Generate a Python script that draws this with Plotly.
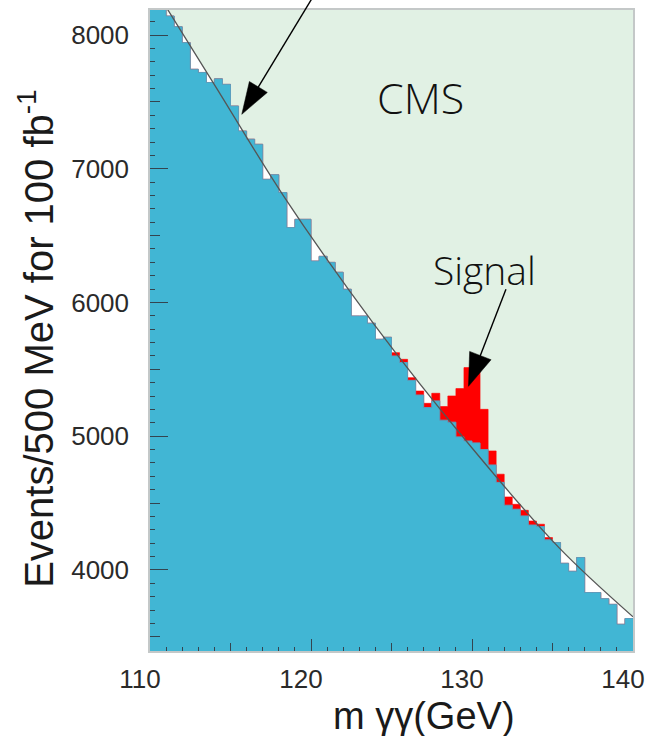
import math
import plotly.graph_objects as go

# ---------------- data ----------------
bin_edges = [110.0 + 0.5 * i for i in range(61)]          # 500 MeV bins, GeV

background = [8300, 8250, 8142, 8062, 7943, 7744, 7720, 7645, 7672, 7631,
              7469, 7282, 7221, 7183, 6921, 6955, 6822, 6560, 6622, 6622,
              6310, 6345, 6300, 6226, 6099, 5899, 5899, 5845, 5725, 5740,
              5600, 5551, 5418, 5308, 5214, 5264, 5120, 5105, 4995, 4964,
              4950, 4900, 4785, 4655, 4484, 4454, 4404, 4336, 4324, 4225,
              4205, 4050, 3990, 4093, 3831, 3831, 3785, 3743, 3594, 3637]

signal = [0, 0, 0, 0, 0, 0, 0, 0, 0, 0,
          0, 0, 0, 0, 0, 0, 0, 0, 0, 0,
          0, 0, 0, 0, 0, 0, 0, 0, 0, 0,
          25, 24, 20, 30, 32, 57, 102, 196, 361, 549,
          563, 301, 105, 61, 62, 37, 42, 30, 18, 17,
          0, 0, 0, 0, 0, 0, 0, 0, 0, 0]

fit_mass = [111.1, 114.2, 118.3, 124.0, 129.9, 135.4, 140.0]
fit_events = [8190, 7590, 6796, 5824, 4927, 4167, 3650]

x_tick_vals = [110, 120, 130, 140]
y_tick_vals = [4000, 5000, 6000, 7000, 8000]

x_range = [110, 140]
y_range = [3394, 8187]

# ---------------- styling ----------------
GREEN_BG = "#e1f1e4"
BLUE = "#41b6d4"
RED = "#ff0000"
TICK_COL = "#34444f"
FRAME_COL = "#c4c8c8"
LABEL_FONT = "Liberation Sans, Arial, sans-serif"
HAND_FONT = "Open Sans, Lato, sans-serif"

total = [b + s for b, s in zip(background, signal)]
step_x = bin_edges
step_bg = background + [background[-1]]
step_tot = total + [total[-1]]

fig = go.Figure()

# white area below the fitted curve (shows through where the histogram dips)
fig.add_trace(go.Scatter(x=fit_mass, y=fit_events, mode="lines",
                         line=dict(width=0, shape="spline"),
                         fill="tozeroy", fillcolor="white",
                         hoverinfo="skip", showlegend=False))
# signal stacked on background
fig.add_trace(go.Scatter(x=step_x, y=step_tot, mode="lines",
                         line=dict(shape="hv", color=RED, width=0.6),
                         fill="tozeroy", fillcolor=RED, showlegend=False))
# background histogram
fig.add_trace(go.Scatter(x=step_x, y=step_bg, mode="lines",
                         line=dict(shape="hv", color="#5b9fbf", width=1),
                         fill="tozeroy", fillcolor=BLUE, showlegend=False))
# fitted background curve
fig.add_trace(go.Scatter(x=fit_mass, y=fit_events, mode="lines",
                         line=dict(shape="spline", color="#555555", width=1.3),
                         showlegend=False))
# carrier trace for the overlay axes that hold the medium-length ticks
fig.add_trace(go.Scatter(x=[None], y=[None], xaxis="x2", yaxis="y2",
                         mode="lines", hoverinfo="skip", showlegend=False))

axis_common = dict(showgrid=False, zeroline=False, automargin=False, layer="above traces")
fig.update_layout(
    width=645, height=736, autosize=False,
    margin=dict(l=150, r=12, t=10, b=85),
    paper_bgcolor="white", plot_bgcolor=GREEN_BG,
    xaxis=dict(range=x_range, tickmode="array", tickvals=x_tick_vals,
               ticks="inside", ticklen=12, tickwidth=1, tickcolor=TICK_COL,
               minor=dict(dtick=1, tick0=110, ticks="inside", ticklen=4,
                          tickcolor=TICK_COL, tickwidth=1),
               showline=True, linecolor=FRAME_COL, linewidth=1.5, mirror=True,
               tickfont=dict(family=LABEL_FONT, size=26, color="#2a2a2a"),
               ticklabelshift=-10, ticklabelstandoff=4, **axis_common),
    yaxis=dict(range=y_range, tickmode="array", tickvals=y_tick_vals,
               ticks="inside", ticklen=18, tickwidth=1, tickcolor=TICK_COL,
               minor=dict(dtick=100, tick0=0, ticks="inside", ticklen=5,
                          tickcolor=TICK_COL, tickwidth=1),
               showline=True, linecolor=FRAME_COL, linewidth=1.5, mirror=True,
               tickfont=dict(family=LABEL_FONT, size=26, color="#2a2a2a"),
               ticklabelstandoff=14, **axis_common),
    xaxis2=dict(range=x_range, overlaying="x", anchor="y2", side="bottom",
                tickmode="linear", dtick=5, tick0=110, ticks="inside", ticklen=8,
                tickcolor=TICK_COL, showticklabels=False, showline=False, **axis_common),
    yaxis2=dict(range=y_range, overlaying="y", anchor="x2", side="left",
                tickmode="linear", dtick=500, tick0=0, ticks="inside", ticklen=10,
                tickcolor=TICK_COL, showticklabels=False, showline=False, **axis_common),
)


def to_paper(x, y):
    return ((x - x_range[0]) / (x_range[1] - x_range[0]),
            (y - y_range[0]) / (y_range[1] - y_range[0]))


def arrow(tip_x, tip_y, tail_dx, tail_dy, head_len, head_w):
    """Arrow pointing at (tip_x, tip_y) data coords; tail offset in pixels (y up)."""
    xp, yp = to_paper(tip_x, tip_y)
    L = math.hypot(tail_dx, tail_dy)
    ux, uy = tail_dx / L, tail_dy / L
    bx, by = ux * head_len, uy * head_len
    px, py = -uy * head_w / 2, ux * head_w / 2
    base = dict(xref="paper", yref="paper", xsizemode="pixel", ysizemode="pixel",
                xanchor=xp, yanchor=yp, layer="above")
    shaft = dict(type="line", x0=bx * 0.6, y0=by * 0.6, x1=tail_dx, y1=tail_dy,
                 line=dict(color="black", width=1.4), **base)
    head = dict(type="path",
                path=f"M0,0 L{bx + px:.2f},{by + py:.2f} L{bx - px:.2f},{by - py:.2f} Z",
                fillcolor="black", line=dict(color="black", width=0.5), **base)
    return [shaft, head]


shapes = []
shapes += arrow(115.70, 7407, 80, 132, 32, 21)
shapes += arrow(129.78, 5373, 37.5, 97, 33, 23)
fig.update_layout(shapes=shapes)

fig.add_annotation(x=126.8, y=7534, xref="x", yref="y", text="CMS", showarrow=False,
                   font=dict(family=HAND_FONT, size=43, color="#111", weight=300))
fig.add_annotation(x=130.75, y=6248, xref="x", yref="y", text="Signal", showarrow=False,
                   font=dict(family=HAND_FONT, size=39, color="#111", weight=300))

# axis titles
fig.add_annotation(x=(424 - 150) / 483, y=-0.101, xref="paper", yref="paper",
                   text="m γγ(GeV)", showarrow=False, xanchor="center", yanchor="middle",
                   font=dict(family=LABEL_FONT, size=38, color="#1a1a1a"))
fig.add_annotation(x=(36 - 150) / 483, y=0.487, xref="paper", yref="paper",
                   text="Events/500 MeV for 100 fb<sup>-1</sup>", showarrow=False,
                   textangle=-90, xanchor="center", yanchor="middle",
                   font=dict(family=LABEL_FONT, size=40, color="#1a1a1a"))

fig.write_html("out.html")
